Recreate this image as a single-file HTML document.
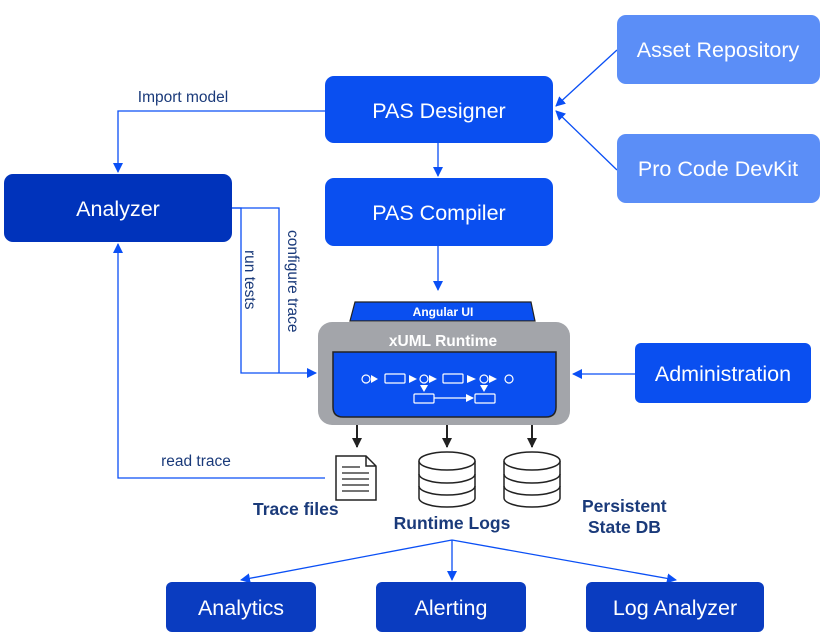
<!DOCTYPE html>
<html><head><meta charset="utf-8"><style>
body{margin:0;background:#fff}
svg{display:block}
text{font-family:"Liberation Sans",Arial,sans-serif}
</style></head><body>
<svg width="832" height="638" viewBox="0 0 832 638" xmlns="http://www.w3.org/2000/svg">
<defs>
<marker id="ab" markerWidth="10" markerHeight="10" refX="9" refY="5" orient="auto" markerUnits="userSpaceOnUse"><path d="M0,0 L10,5 L0,10 z" fill="#0a4ff5"/></marker>
<marker id="ak" markerWidth="10" markerHeight="10" refX="9" refY="5" orient="auto" markerUnits="userSpaceOnUse"><path d="M0,0 L10,5 L0,10 z" fill="#222"/></marker>
<marker id="aw" markerWidth="8" markerHeight="8" refX="7" refY="4" orient="auto" markerUnits="userSpaceOnUse"><path d="M0,0 L8,4 L0,8 z" fill="#fff"/></marker>
</defs>
<g stroke="#0a4ff5" stroke-width="1.3" fill="none">
<polyline points="325,111 118,111 118,172" marker-end="url(#ab)"/>
<line x1="438" y1="143" x2="438" y2="176" marker-end="url(#ab)"/>
<line x1="438" y1="246" x2="438" y2="290" marker-end="url(#ab)"/>
<line x1="617" y1="50" x2="556" y2="106" marker-end="url(#ab)"/>
<line x1="617" y1="170" x2="556" y2="111" marker-end="url(#ab)"/>
<polyline points="232,208 279,208 279,373"/>
<polyline points="232,208 241,208 241,373 316,373" marker-end="url(#ab)"/>
<polyline points="325,478 118,478 118,244" marker-end="url(#ab)"/>
<line x1="635" y1="374" x2="573" y2="374" marker-end="url(#ab)"/>
<line x1="452" y1="540" x2="241" y2="580" marker-end="url(#ab)"/>
<line x1="452" y1="540" x2="452" y2="580" marker-end="url(#ab)"/>
<line x1="452" y1="540" x2="676" y2="580" marker-end="url(#ab)"/>
</g>
<g font-size="21.5" fill="#fff" text-anchor="middle">
<rect x="325" y="76" width="228" height="67" rx="9" fill="#0a4ff0"/>
<text x="439" y="118">PAS Designer</text>
<rect x="325" y="178" width="228" height="68" rx="9" fill="#0a4ff0"/>
<text x="439" y="220">PAS Compiler</text>
<rect x="617" y="15" width="203" height="69" rx="9" fill="#5b8ef7"/>
<text x="718" y="57">Asset Repository</text>
<rect x="617" y="134" width="203" height="69" rx="9" fill="#5b8ef7"/>
<text x="718" y="176">Pro Code DevKit</text>
<rect x="4" y="174" width="228" height="68" rx="9" fill="#0033bb"/>
<text x="118" y="216">Analyzer</text>
<rect x="635" y="343" width="176" height="60" rx="6" fill="#0a4ff0"/>
<text x="723" y="381">Administration</text>
<rect x="166" y="582" width="150" height="50" rx="6" fill="#0a3cc0"/>
<text x="241" y="615">Analytics</text>
<rect x="376" y="582" width="150" height="50" rx="6" fill="#0a3cc0"/>
<text x="451" y="615">Alerting</text>
<rect x="586" y="582" width="178" height="50" rx="6" fill="#0a3cc0"/>
<text x="675" y="615">Log Analyzer</text>
</g>
<text x="183" y="102" fill="#1a3a7a" font-size="15.5" text-anchor="middle">Import model</text>
<text x="196" y="466" fill="#1a3a7a" font-size="15.5" text-anchor="middle">read trace</text>
<text transform="translate(245,250) rotate(90)" fill="#1a3a7a" font-size="15.5">run tests</text>
<text transform="translate(288,230) rotate(90)" fill="#1a3a7a" font-size="15.5">configure trace</text>
<!-- runtime -->
<path d="M355,302 L531,302 L535,321 L350,321 Z" fill="#0a4ff0" stroke="#222" stroke-width="1.2"/>
<text x="443" y="316" fill="#fff" font-size="12" font-weight="bold" text-anchor="middle">Angular UI</text>
<rect x="318" y="322" width="252" height="103" rx="14" fill="#a3a5aa"/>
<text x="443" y="346" fill="#fff" font-size="15.5" font-weight="bold" text-anchor="middle">xUML Runtime</text>
<path d="M333,352 L556,352 L556,407 Q556,417 546,417 L343,417 Q333,417 333,407 Z" fill="#0a4ff0" stroke="#222" stroke-width="1.5"/>
<g stroke="#fff" stroke-width="1.2" fill="none">
<circle cx="366" cy="379" r="4"/>
<rect x="385" y="374" width="20" height="9" rx="1"/>
<rect x="443" y="374" width="20" height="9" rx="1"/>
<circle cx="424" cy="379" r="4"/><circle cx="484" cy="379" r="4"/>
<circle cx="509" cy="379" r="4"/>
<rect x="414" y="394" width="20" height="9" rx="1"/>
<rect x="475" y="394" width="20" height="9" rx="1"/>
<line x1="434" y1="398" x2="473" y2="398" marker-end="url(#aw)"/>
</g>
<g fill="#fff">
<path d="M371,375 L378,379 L371,383Z"/><path d="M409,375 L417,379 L409,383Z"/><path d="M429,375 L437,379 L429,383Z"/>
<path d="M467,375 L476,379 L467,383Z"/><path d="M489,375 L497,379 L489,383Z"/>
<path d="M420,385 L424,392 L428,385Z"/><path d="M480,385 L484,392 L488,385Z"/>
</g>
<g stroke="#222" stroke-width="2">
<line x1="357" y1="425" x2="357" y2="447" marker-end="url(#ak)"/>
<line x1="447" y1="425" x2="447" y2="447" marker-end="url(#ak)"/>
<line x1="532" y1="425" x2="532" y2="447" marker-end="url(#ak)"/>
</g>
<!-- doc -->
<g stroke="#222" stroke-width="1.5" fill="#fff">
<path d="M336,456 L366,456 L376,466 L376,500 L336,500 Z"/>
<path d="M366,456 L366,466 L376,466" fill="none"/>
<g stroke-width="1.3"><line x1="342" y1="467" x2="360" y2="467"/><line x1="342" y1="473" x2="369" y2="473"/><line x1="342" y1="479" x2="369" y2="479"/><line x1="342" y1="485" x2="369" y2="485"/><line x1="342" y1="491" x2="369" y2="491"/></g>
</g>
<!-- dbs -->
<g stroke="#222" stroke-width="1.5" fill="#fff">
<path d="M419,461 L419,498 A28,9 0 0 0 475,498 L475,461"/>
<ellipse cx="447" cy="461" rx="28" ry="9"/>
<path d="M419,474 A28,9 0 0 0 475,474 M419,486 A28,9 0 0 0 475,486" fill="none"/>
<path d="M504,461 L504,498 A28,9 0 0 0 560,498 L560,461"/>
<ellipse cx="532" cy="461" rx="28" ry="9"/>
<path d="M504,474 A28,9 0 0 0 560,474 M504,486 A28,9 0 0 0 560,486" fill="none"/>
</g>
<g fill="#1a3a7a" font-size="17.5" font-weight="bold">
<text x="253" y="515">Trace files</text>
<text x="452" y="529" text-anchor="middle">Runtime Logs</text>
<text x="582" y="512">Persistent</text>
<text x="588" y="533">State DB</text>
</g>
</svg>
</body></html>
